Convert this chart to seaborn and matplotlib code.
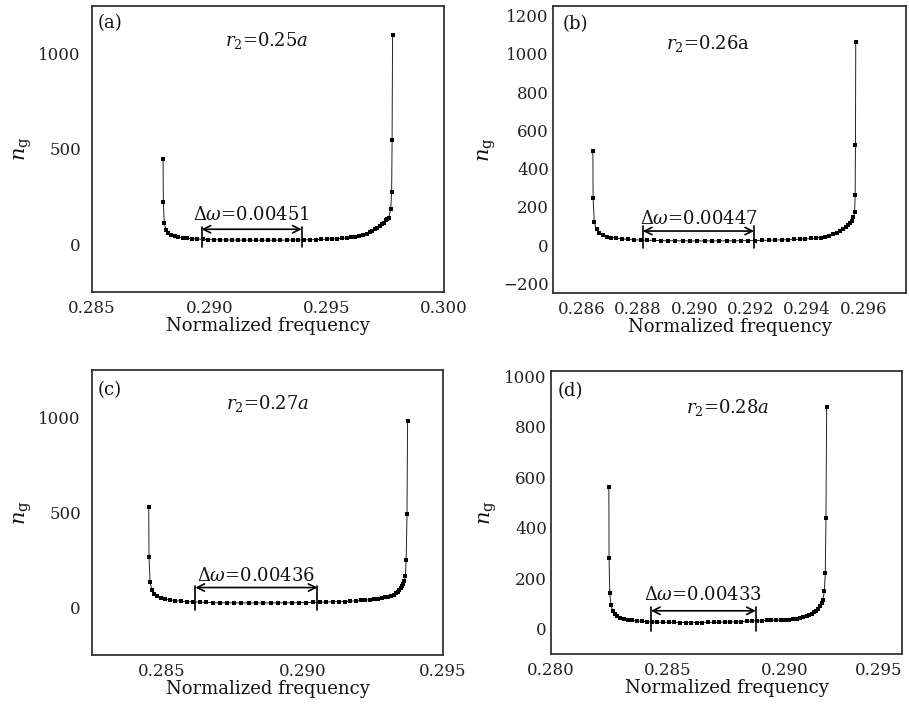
import matplotlib
matplotlib.use("Agg")
import matplotlib.pyplot as plt
import seaborn as sns
import pandas as pd
from matplotlib.ticker import FormatStrFormatter

# ---------------- data ----------------
freq_a = [0.28803, 0.28804, 0.28808, 0.28815, 0.28825, 0.28837, 0.28852, 0.28868, 0.28886, 0.28906,
          0.28927, 0.28949, 0.28972, 0.28996, 0.29020, 0.29045, 0.29070, 0.29095, 0.29121, 0.29147,
          0.29173, 0.29199, 0.29225, 0.29251, 0.29277, 0.29303, 0.29329, 0.29355, 0.29380, 0.29405,
          0.29430, 0.29454, 0.29478, 0.29501, 0.29523, 0.29545, 0.29566, 0.29586, 0.29605, 0.29623,
          0.29640, 0.29656, 0.29670, 0.29683, 0.29695, 0.29706, 0.29716, 0.29726, 0.29735, 0.29743,
          0.29751, 0.29758, 0.29764, 0.29773, 0.29777, 0.29779, 0.29781]
ng_a = [447, 223, 112, 76, 60, 50, 43, 38, 34, 31,
        29, 27, 26, 25, 24, 23.5, 23, 22.5, 22, 22,
        21.5, 21.5, 21.5, 21.5, 21.5, 22, 22, 22.5, 23, 23.5,
        24, 25, 26, 27, 28, 30, 32, 34, 37, 40,
        44, 49, 55, 62, 70, 78, 86, 95, 104, 114,
        125, 132, 138, 183, 272, 547, 1100]

freq_b = [0.28641, 0.28642, 0.28646, 0.28654, 0.28664, 0.28676, 0.28690, 0.28706, 0.28724, 0.28744,
          0.28765, 0.28787, 0.28810, 0.28834, 0.28858, 0.28883, 0.28908, 0.28933, 0.28959, 0.28985,
          0.29011, 0.29037, 0.29063, 0.29089, 0.29115, 0.29141, 0.29166, 0.29191, 0.29216, 0.29240,
          0.29264, 0.29287, 0.29310, 0.29332, 0.29353, 0.29374, 0.29394, 0.29413, 0.29431, 0.29448,
          0.29464, 0.29479, 0.29493, 0.29506, 0.29518, 0.29528, 0.29537, 0.29545, 0.29552, 0.29558,
          0.29564, 0.29568, 0.29570, 0.29571, 0.29572]
ng_b = [491, 246, 121, 83, 63, 52, 45, 40, 36, 33,
        30, 28, 27, 26, 25, 24, 23.5, 23, 23, 22.5,
        22.5, 22.5, 22.5, 22.5, 23, 23, 23.5, 24, 24.5, 25,
        26, 27, 28, 29, 30, 31, 33, 35, 37, 40,
        44, 49, 56, 64, 73, 83, 93, 104, 116, 128,
        145, 175, 263, 526, 1060]

freq_c = [0.28452, 0.28453, 0.28457, 0.28463, 0.28472, 0.28483, 0.28496, 0.28511, 0.28528, 0.28547,
          0.28567, 0.28588, 0.28610, 0.28633, 0.28657, 0.28681, 0.28706, 0.28731, 0.28756, 0.28782,
          0.28808, 0.28834, 0.28860, 0.28886, 0.28912, 0.28938, 0.28963, 0.28988, 0.29013, 0.29037,
          0.29061, 0.29084, 0.29107, 0.29129, 0.29150, 0.29170, 0.29189, 0.29207, 0.29224, 0.29240,
          0.29255, 0.29269, 0.29282, 0.29294, 0.29305, 0.29315, 0.29324, 0.29332, 0.29339, 0.29345,
          0.29350, 0.29355, 0.29359, 0.29363, 0.29366, 0.29369, 0.29372, 0.29374]
ng_c = [528, 266, 133, 94, 72, 58, 50, 44, 40, 36,
        33, 31, 29, 28, 27, 26, 25, 25, 24.5, 24,
        24, 24, 24, 24, 24.5, 24.5, 25, 25.5, 26, 27,
        28, 29, 30, 31, 31, 33, 35, 37, 39, 41,
        43, 46, 49, 53, 57, 62, 68, 75, 83, 92,
        102, 113, 125, 140, 164, 248, 492, 981]

freq_d = [0.28247, 0.28248, 0.28251, 0.28256, 0.28263, 0.28272, 0.28283, 0.28296, 0.28311, 0.28328,
          0.28346, 0.28366, 0.28387, 0.28409, 0.28432, 0.28455, 0.28479, 0.28503, 0.28527, 0.28551,
          0.28575, 0.28599, 0.28623, 0.28647, 0.28671, 0.28695, 0.28719, 0.28743, 0.28767, 0.28790,
          0.28813, 0.28836, 0.28858, 0.28880, 0.28901, 0.28922, 0.28942, 0.28962, 0.28981, 0.28999,
          0.29017, 0.29034, 0.29050, 0.29065, 0.29079, 0.29092, 0.29104, 0.29115, 0.29125, 0.29134,
          0.29142, 0.29149, 0.29156, 0.29162, 0.29168, 0.29172, 0.29175, 0.29178]
ng_d = [559, 279, 140, 95, 72, 58, 49, 43, 39, 35,
        33, 31, 29, 28, 27, 26, 25.5, 25, 25, 24.5,
        24.5, 24.5, 24.5, 24.5, 25, 25, 25.5, 26, 26.5, 27,
        28, 29, 30, 31, 32, 33, 33, 33, 33, 34,
        36, 38, 40, 43, 46, 50, 54, 59, 65, 72,
        80, 89, 100, 115, 148, 219, 437, 878]

panel_labels = ["(a)", "(b)", "(c)", "(d)"]
r2_labels = [r"$r_2$=0.25$a$", r"$r_2$=0.26a", r"$r_2$=0.27$a$", r"$r_2$=0.28$a$"]
delta_labels = ["0.00451", "0.00447", "0.00436", "0.00433"]
span_left = [0.28967, 0.28818, 0.28618, 0.28427]
span_right = [0.29394, 0.29212, 0.29053, 0.28875]

xlims = [(0.285, 0.300), (0.285, 0.2975), (0.2825, 0.295), (0.280, 0.295)]
ylims = [(-250, 1250), (-250, 1250), (-250, 1250), (-100, 1020)]
xticks = [[0.285, 0.290, 0.295, 0.300],
          [0.286, 0.288, 0.290, 0.292, 0.294, 0.296],
          [0.285, 0.290, 0.295],
          [0.280, 0.285, 0.290, 0.295]]
yticks = [[0, 500, 1000],
          [-200, 0, 200, 400, 600, 800, 1000, 1200],
          [0, 500, 1000],
          [0, 200, 400, 600, 800, 1000]]

# ---------------- style ----------------
sns.set_style("white")
plt.rcParams["font.family"] = ["DejaVu Serif"]
plt.rcParams["mathtext.fontset"] = "dejavuserif"
plt.rcParams["axes.unicode_minus"] = True

fig = plt.figure(figsize=(9.09, 7.09), dpi=100)
positions = [
    [0.1012, 0.5882, 0.3872, 0.4033],
    [0.6084, 0.5867, 0.3883, 0.4048],
    [0.1012, 0.0762, 0.3861, 0.4019],
    [0.6062, 0.0776, 0.3861, 0.3991],
]

series = [(freq_a, ng_a), (freq_b, ng_b), (freq_c, ng_c), (freq_d, ng_d)]
label_xy = [(0.017, 0.94), (0.028, 0.937), (0.015, 0.93), (0.02, 0.93)]
r2_xy = [(0.497, 0.88), (0.44, 0.87), (0.50, 0.884), (0.504, 0.87)]
ytick_dir = ["out", "in", "out", "in"]
ylabel_pad = [3, 4, 3, 4]
bracket = [(-16, 89, 79, 126), (-16, 100, 74, 110), (-14, 112, 105, 138), (-8, 86, 71, 112)]

for i in range(4):
    ax = fig.add_axes(positions[i])
    fx, ny = series[i]
    df = pd.DataFrame({"freq": fx, "ng": ny})
    sns.lineplot(data=df, x="freq", y="ng", ax=ax, estimator=None, sort=False,
                 color="#222222", linewidth=0.7, marker="s", markersize=3.2,
                 markeredgewidth=0, markerfacecolor="black")
    ax.set_xlim(*xlims[i])
    ax.set_ylim(*ylims[i])
    ax.set_xticks(xticks[i])
    ax.set_yticks(yticks[i])
    ax.xaxis.set_major_formatter(FormatStrFormatter("%.3f"))
    ax.tick_params(axis="x", direction="in", length=5, width=1.0, labelsize=12, pad=6, colors="#222222")
    ax.tick_params(axis="y", direction=ytick_dir[i], length=5, width=1.0, labelsize=12, pad=3, colors="#222222")
    for sp in ax.spines.values():
        sp.set_visible(True)
        sp.set_color("#333333")
        sp.set_linewidth(1.3)
    ax.set_xlabel("Normalized frequency", fontsize=13, labelpad=0, color="#111111")
    ax.set_ylabel(r"$n_{\mathrm{g}}$", fontsize=15, labelpad=ylabel_pad[i], color="#111111")
    ax.text(label_xy[i][0], label_xy[i][1], panel_labels[i], transform=ax.transAxes,
            fontsize=13, ha="left", va="center", color="#111111")
    ax.text(r2_xy[i][0], r2_xy[i][1], r2_labels[i], transform=ax.transAxes,
            fontsize=13, ha="center", va="center", color="#111111")
    # delta-omega bracket
    yb, yt, ya, ytxt = bracket[i]
    x0, x1 = span_left[i], span_right[i]
    ax.plot([x0, x0], [yb, yt], color="black", linewidth=1.2)
    ax.plot([x1, x1], [yb, yt], color="black", linewidth=1.2)
    ax.annotate("", xy=(x1, ya), xytext=(x0, ya),
                arrowprops=dict(arrowstyle="<->", color="black", lw=1.2,
                                shrinkA=0, shrinkB=0, mutation_scale=13))
    ax.text((x0 + x1) / 2, ytxt, r"$\Delta\omega$=" + delta_labels[i], fontsize=13,
            ha="center", va="baseline", color="#111111")
    if i == 3:
        ax.get_xticklabels()[-1].set_horizontalalignment("right")

fig.savefig("out.png", dpi=100, facecolor="white")
